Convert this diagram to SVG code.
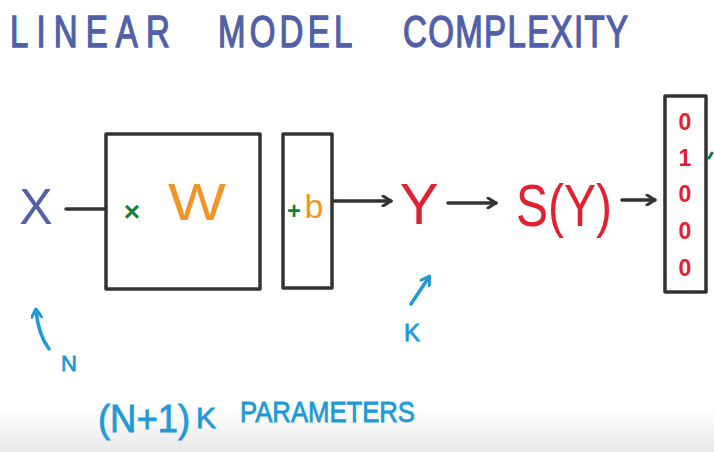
<svg xmlns="http://www.w3.org/2000/svg" width="714" height="452" viewBox="0 0 714 452">
<defs>
<linearGradient id="bg" x1="0" y1="0" x2="0" y2="1">
<stop offset="0" stop-color="#ffffff"/>
<stop offset="0.9" stop-color="#ffffff"/>
<stop offset="1" stop-color="#e9e9e9"/>
</linearGradient>
<marker id="chev" viewBox="0 0 12 12" refX="10" refY="6" markerWidth="12" markerHeight="12" markerUnits="userSpaceOnUse" orient="auto">
<path d="M2,1 L10,6 L2,11" fill="none" stroke="#333" stroke-width="3" stroke-linecap="round" stroke-linejoin="round"/>
</marker>
<marker id="bchev" viewBox="0 0 12 12" refX="9" refY="6" markerWidth="12" markerHeight="12" markerUnits="userSpaceOnUse" orient="auto">
<path d="M2,1 L10,6 L2,11" fill="none" stroke="#1e9ad6" stroke-width="3" stroke-linecap="round" stroke-linejoin="round"/>
</marker>
</defs>
<style>
.t{font-family:"Liberation Sans","DejaVu Sans",sans-serif;}
.title{fill:#5160a9;font-size:44px;stroke:#5160a9;stroke-width:1.4;}
.box{fill:none;stroke:#333;stroke-width:3.5;stroke-linejoin:round;}
.red{fill:#e3202f;}
.blue{fill:#1e9ad6;stroke:#1e9ad6;stroke-width:0.8;}
.orange{fill:#f29427;}
.green{fill:#13803e;}
.conn{fill:none;stroke:#333;stroke-width:3.5;stroke-linecap:round;}
</style>
<rect x="0" y="0" width="714" height="452" fill="url(#bg)"/>

<g id="title" class="t">
<text class="title" transform="translate(10,47) scale(0.75,1)" x="0" y="0" textLength="213" lengthAdjust="spacing">LINEAR</text>
<text class="title" transform="translate(218,47) scale(0.75,1)" x="0" y="0" textLength="179" lengthAdjust="spacing">MODEL</text>
<text class="title" transform="translate(403,47) scale(0.75,1)" x="0" y="0" textLength="300" lengthAdjust="spacing">COMPLEXITY</text>
</g>

<g id="connectors">
<line class="conn" x1="66" y1="209" x2="105" y2="209"/>
<line class="conn" x1="333" y1="201" x2="391" y2="201" marker-end="url(#chev)"/>
<line class="conn" x1="448" y1="203" x2="496" y2="203" marker-end="url(#chev)"/>
<line class="conn" x1="622" y1="200" x2="655" y2="200" marker-end="url(#chev)"/>
<path d="M49,349 Q38,334 36,310" fill="none" stroke="#1e9ad6" stroke-width="3.5" stroke-linecap="round" marker-end="url(#bchev)"/>
<line x1="411" y1="304" x2="429" y2="277" stroke="#1e9ad6" stroke-width="3.5" stroke-linecap="round" marker-end="url(#bchev)"/>
</g>

<g id="node-x" class="t">
<text x="36" y="224" text-anchor="middle" font-size="50" fill="#5160a9">X</text>
</g>

<g id="node-w" class="t">
<rect class="box" x="106" y="134" width="154" height="155"/>
<text class="green" x="132" y="221" text-anchor="middle" font-size="28" font-weight="bold">×</text>
<text class="orange" x="197" y="220" text-anchor="middle" font-size="52" textLength="58" lengthAdjust="spacingAndGlyphs">W</text>
</g>

<g id="node-b" class="t">
<rect class="box" x="283" y="134" width="49" height="154"/>
<text class="green" x="294" y="219" text-anchor="middle" font-size="24" font-weight="bold">+</text>
<text class="orange" x="314" y="218" text-anchor="middle" font-size="34">b</text>
</g>

<g id="node-y" class="t">
<text class="red" x="419" y="224" text-anchor="middle" font-size="58">Y</text>
</g>

<g id="node-sy" class="t">
<text class="red" x="516" y="226" font-size="60" textLength="96" lengthAdjust="spacingAndGlyphs">S(Y)</text>
</g>

<g id="node-onehot" class="t">
<rect class="box" x="665" y="96" width="41" height="196"/>
<text class="red" x="685" y="130" text-anchor="middle" font-size="23" font-weight="bold">0</text>
<text class="red" x="685" y="166" text-anchor="middle" font-size="23" font-weight="bold">1</text>
<text class="red" x="685" y="202" text-anchor="middle" font-size="23" font-weight="bold">0</text>
<text class="red" x="685" y="239" text-anchor="middle" font-size="23" font-weight="bold">0</text>
<text class="red" x="685" y="276" text-anchor="middle" font-size="23" font-weight="bold">0</text>
<path d="M709,158 L712,153" stroke="#13803e" stroke-width="3" stroke-linecap="round"/>
</g>

<g id="label-n" class="t">
<text class="blue" x="69" y="371" text-anchor="middle" font-size="22">N</text>
</g>

<g id="label-k" class="t">
<text class="blue" x="412" y="341" text-anchor="middle" font-size="24">K</text>
</g>

<g id="params" class="t">
<text class="blue" x="98" y="432" font-size="38" textLength="92" lengthAdjust="spacingAndGlyphs">(N+1)</text>
<text class="blue" x="196" y="428" font-size="30">K</text>
<text class="blue" x="240" y="422" font-size="29" textLength="175" lengthAdjust="spacingAndGlyphs">PARAMETERS</text>
</g>
</svg>
